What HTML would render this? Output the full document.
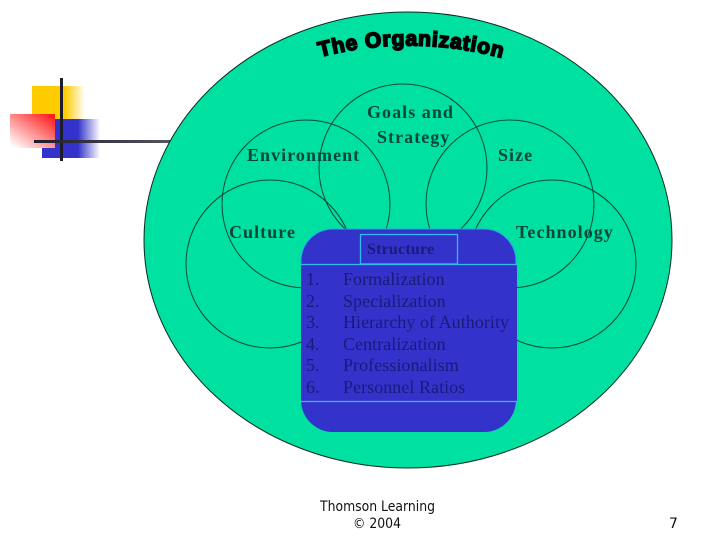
<!DOCTYPE html>
<html>
<head>
<meta charset="utf-8">
<style>
html,body{margin:0;padding:0;background:#fff;}
svg{display:block;}
.lab{font-family:"Liberation Serif",serif;font-weight:bold;font-size:18px;fill:#04453a;letter-spacing:1.05px;}
.li{font-family:"Liberation Serif",serif;font-size:18px;fill:#1a1a78;font-weight:normal;letter-spacing:.05px;}
.ft{font-family:"DejaVu Sans",sans-serif;font-size:14px;fill:#111;}
</style>
</head>
<body>
<svg width="720" height="540" viewBox="0 0 720 540" xmlns="http://www.w3.org/2000/svg">
<defs>
<linearGradient id="gy" x1="0" x2="1" y1="0" y2="0">
<stop offset="0" stop-color="#ffcc00"/><stop offset=".62" stop-color="#ffcc00"/><stop offset="1" stop-color="#ffcc00" stop-opacity="0"/>
</linearGradient>
<linearGradient id="gb" x1="0" x2="1" y1="0" y2="0">
<stop offset="0" stop-color="#3333cc"/><stop offset=".62" stop-color="#3333cc"/><stop offset="1" stop-color="#3333cc" stop-opacity="0"/>
</linearGradient>
<linearGradient id="gr" x1="1" x2="0.1" y1="0" y2="1">
<stop offset="0" stop-color="#ff1010"/><stop offset="1" stop-color="#ffffff"/>
</linearGradient>
<linearGradient id="gl" x1="0" x2="1" y1="0" y2="0">
<stop offset="0" stop-color="#1c1c2c"/><stop offset="1" stop-color="#555560"/>
</linearGradient>
<path id="arc" d="M320 57 Q412 33 506 59"/>
</defs>

<rect x="32" y="86" width="53" height="34" fill="url(#gy)"/>
<rect x="42" y="119" width="58" height="39" fill="url(#gb)"/>
<rect x="10" y="114" width="45" height="34" fill="url(#gr)"/>
<rect x="60" y="78" width="3" height="83" fill="#1c1c2c"/>
<rect x="34" y="140" width="136" height="3" fill="url(#gl)"/>

<ellipse cx="408" cy="240" rx="264" ry="228" fill="#00e0a0" stroke="#0a2a22" stroke-width="1"/>

<g fill="none" stroke="#0a4a3a" stroke-width="1">
<circle cx="306" cy="204" r="84"/>
<circle cx="270" cy="264" r="84"/>
<circle cx="403" cy="168" r="84"/>
<circle cx="510" cy="204" r="84"/>
<circle cx="552" cy="264" r="84"/>
</g>

<text font-family="'Liberation Sans',sans-serif" font-weight="bold" font-size="21" fill="#000" stroke="#000" stroke-width="1.7"><textPath href="#arc" textLength="184" lengthAdjust="spacing">The Organization</textPath></text>

<text class="lab" x="247" y="161">Environment</text>
<text class="lab" x="367" y="118">Goals and</text>
<text class="lab" x="377" y="143">Strategy</text>
<text class="lab" x="498" y="161">Size</text>
<text class="lab" x="229" y="238">Culture</text>
<text class="lab" x="516" y="238">Technology</text>

<path d="M333 229H484A32 32 0 0 1 516 261V264H517V401H516V400A32 32 0 0 1 484 432H333A32 32 0 0 1 301 400V261A32 32 0 0 1 333 229Z" fill="#3333cc"/>
<path d="M301 264V261A32 32 0 0 1 333 229H484A32 32 0 0 1 516 261V264" fill="none" stroke="#2aa8e8" stroke-width="1"/>
<rect x="360.500" y="234.500" width="97" height="29.500" fill="none" stroke="#33bbee" stroke-width="1.300"/>
<line x1="301" y1="264.500" x2="517" y2="264.500" stroke="#33bbee" stroke-width="1.300"/>
<line x1="301" y1="401.500" x2="517" y2="401.500" stroke="#33bbee" stroke-width="1.300"/>

<text x="367" y="254" font-family="'Liberation Serif',serif" font-weight="bold" font-size="16" fill="#1a1a78" letter-spacing=".2">Structure</text>

<g class="li">
<text class="li" x="306" y="285">1.</text><text class="li" x="343" y="285">Formalization</text>
<text class="li" x="306" y="307">2.</text><text class="li" x="343" y="307">Specialization</text>
<text class="li" x="306" y="328">3.</text><text class="li" x="343" y="328">Hierarchy of Authority</text>
<text class="li" x="306" y="350">4.</text><text class="li" x="343" y="350">Centralization</text>
<text class="li" x="306" y="371">5.</text><text class="li" x="343" y="371">Professionalism</text>
<text class="li" x="306" y="393">6.</text><text class="li" x="343" y="393">Personnel Ratios</text>
</g>

<text class="ft" x="320" y="511" textLength="115" lengthAdjust="spacingAndGlyphs">Thomson Learning</text>
<text class="ft" x="353" y="528" textLength="48" lengthAdjust="spacingAndGlyphs">© 2004</text>
<text class="ft" x="669" y="528">7</text>
</svg>
</body>
</html>
